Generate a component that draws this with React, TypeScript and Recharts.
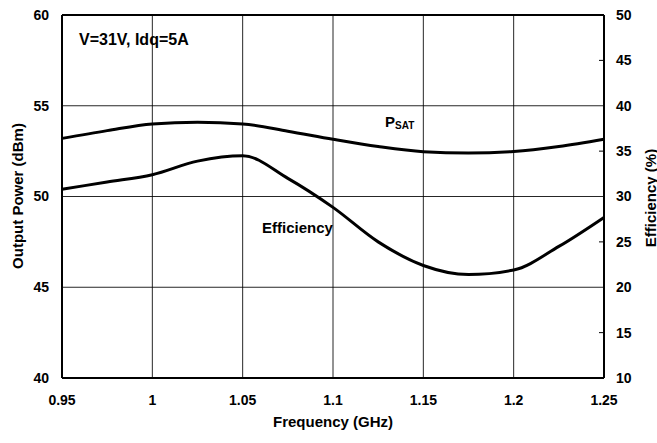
import * as React from 'react';
import { LineChart, Line, XAxis, YAxis, CartesianGrid, ReferenceLine } from 'recharts';

// frequency in GHz
const frequency = [0.95, 0.975, 1.0, 1.025, 1.05, 1.075, 1.1, 1.125, 1.15, 1.175, 1.2, 1.225, 1.25];
// saturated output power, dBm (left axis)
const psat = [53.2, 53.63, 54.0, 54.09, 54.0, 53.6, 53.15, 52.75, 52.47, 52.4, 52.48, 52.75, 53.15];
// drain efficiency, % (right axis)
const efficiency = [30.8, 31.6, 32.4, 33.9, 34.5, 32.0, 28.8, 25.0, 22.4, 21.4, 21.9, 24.5, 27.7];

const freqTicks = [0.95, 1, 1.05, 1.1, 1.15, 1.2, 1.25];
const powerTicks = [40, 45, 50, 55, 60];
const effTicks = [10, 15, 20, 25, 30, 35, 40, 45, 50];

const data = frequency.map((f, i) => ({ f, psat: psat[i], eff: efficiency[i] }));

const FONT = '"Liberation Sans", Arial, Helvetica, sans-serif';
const tickStyle = { fontSize: 14, fontWeight: 700, fill: '#000', fontFamily: FONT };

const RightTick = (props: any) => {
  const { x, y, payload } = props;
  const minor = payload.value % 10 !== 0;
  return (
    <g>
      {minor && <line x1={x - 17} x2={x - 12} y1={y} y2={y} stroke="#000" strokeWidth={1} />}
      <text x={x} y={y} dy="0.355em" textAnchor="start" style={tickStyle}>
        {payload.value}
      </text>
    </g>
  );
};

const App = () => (
  <div style={{ position: 'absolute', left: 0, top: 0, background: '#fff' }}>
    <LineChart
      width={657}
      height={443}
      data={data}
      margin={{ top: 15, right: 0, bottom: 0, left: 0 }}
      style={{ fontFamily: FONT }}
    >
      <CartesianGrid yAxisId="power" stroke="#000" strokeWidth={1} strokeOpacity={0.85} />
      <XAxis
        dataKey="f"
        type="number"
        domain={[0.95, 1.25]}
        ticks={freqTicks}
        height={65}
        tickSize={0}
        tickMargin={17}
        axisLine={{ stroke: '#000', strokeWidth: 2 }}
        tick={tickStyle}
      />
      <YAxis
        yAxisId="power"
        orientation="left"
        domain={[40, 60]}
        ticks={powerTicks}
        width={62}
        tickSize={0}
        tickMargin={13}
        axisLine={{ stroke: '#000', strokeWidth: 2 }}
        tick={tickStyle}
      />
      <YAxis
        yAxisId="eff"
        orientation="right"
        domain={[10, 50]}
        ticks={effTicks}
        width={53}
        tickSize={0}
        tickMargin={12}
        axisLine={{ stroke: '#000', strokeWidth: 2 }}
        tick={<RightTick />}
      />
      <ReferenceLine yAxisId="power" y={60} stroke="#000" strokeWidth={2} />
      <Line
        yAxisId="power"
        dataKey="psat"
        type="monotone"
        stroke="#000"
        strokeWidth={3}
        dot={false}
        isAnimationActive={false}
      />
      <Line
        yAxisId="eff"
        dataKey="eff"
        type="monotone"
        stroke="#000"
        strokeWidth={3}
        dot={false}
        isAnimationActive={false}
      />
      <text x={79} y={45} fontSize={16} fontWeight={700} fontFamily={FONT} fill="#000">
        V=31V, Idq=5A
      </text>
      <text x={385} y={127} fontSize={15} fontWeight={700} fontFamily={FONT} fill="#000">
        P<tspan fontSize={10} dy={2}>SAT</tspan>
      </text>
      <text x={262} y={233} fontSize={15} fontWeight={700} fontFamily={FONT} fill="#000">
        Efficiency
      </text>
      <text x={333} y={427} textAnchor="middle" fontSize={15} fontWeight={700} fontFamily={FONT} fill="#000">
        Frequency (GHz)
      </text>
      <text
        x={17}
        y={196}
        transform="rotate(-90 17 196)"
        textAnchor="middle"
        dominantBaseline="central"
        fontSize={15}
        fontWeight={700}
        fontFamily={FONT}
        fill="#000"
      >
        Output Power (dBm)
      </text>
      <text
        x={650}
        y={198}
        transform="rotate(-90 650 198)"
        textAnchor="middle"
        dominantBaseline="central"
        fontSize={15}
        fontWeight={700}
        fontFamily={FONT}
        fill="#000"
      >
        Efficiency (%)
      </text>
    </LineChart>
  </div>
);

export default App;
